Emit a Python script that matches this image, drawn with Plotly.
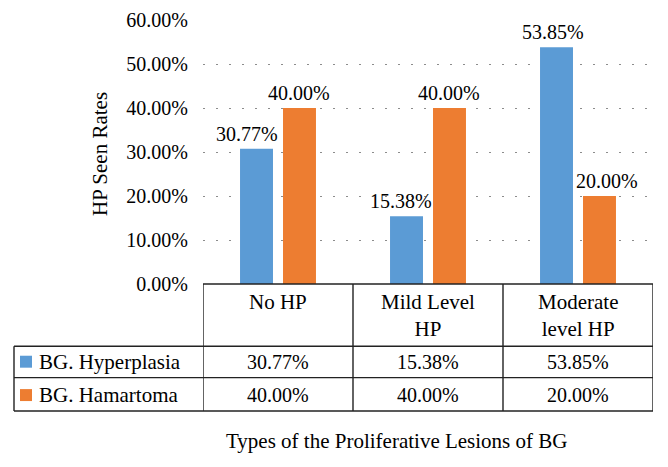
import plotly.graph_objects as go

categories = ["No HP", "Mild Level HP", "Moderate level HP"]
header_labels = ["No HP", "Mild Level<br>HP", "Moderate<br>level HP"]
series_names = ["BG. Hyperplasia", "BG. Hamartoma"]
hyperplasia = [30.77, 15.38, 53.85]
hamartoma = [40.00, 40.00, 20.00]
y_ticks = [0, 10, 20, 30, 40, 50, 60]
y_tick_labels = ["0.00%", "10.00%", "20.00%", "30.00%", "40.00%", "50.00%", "60.00%"]
colors = ["#5B9BD5", "#ED7D31"]
# small horizontal nudges of the value labels (pixels), as in the original
label_nudge = [[-10, -6, -4], [-1, -1, 7]]
series_offset = [-21.5, 21.5]

# the page body adds an 8px margin, so the figure is laid out in page coords minus 8
OFF = 8
W, H = 668 - OFF, 467 - OFF
L, R, T, B = 203, 653, 19.5, 284.5
FONT = "Liberation Serif"
FS_NUM = 20
FS_TXT = 21


def px(X):
    return (X - L) / (R - L)


def py(Y):
    return (B - Y) / (B - T)


fig = go.Figure()
for name, vals, col in zip(series_names, [hyperplasia, hamartoma], colors):
    fig.add_trace(go.Bar(
        x=categories, y=vals, name=name, marker=dict(color=col, line=dict(width=0)),
    ))

fig.update_layout(
    width=W, height=H, margin=dict(l=L - OFF, r=668 - R, t=T - OFF, b=467 - B, pad=0),
    paper_bgcolor="white", plot_bgcolor="white",
    barmode="group", bargap=0.427, bargroupgap=0.233, showlegend=False,
    font=dict(family=FONT, size=FS_NUM, color="black"),
)
fig.update_xaxes(range=[-0.5, 2.5], showticklabels=False, showgrid=False, zeroline=False,
                 showline=False, automargin=False)
fig.update_yaxes(range=[0, 60.02], tickvals=y_ticks, ticktext=y_tick_labels, showgrid=True,
                 gridcolor="#8c8c8c", gridwidth=1.3, griddash="2px,11px", zeroline=False,
                 showline=False, automargin=False, ticks="outside", ticklen=10,
                 tickcolor="rgba(0,0,0,0)", tickfont=dict(family=FONT, size=FS_NUM))

shapes = []
annotations = []
line = dict(color="#222222", width=1.4)
shapes.append(dict(type="line", xref="paper", yref="paper", x0=0, x1=1, y0=py(284.5), y1=py(284.5), line=line))
for Y in [347, 378.5, 412]:
    shapes.append(dict(type="line", xref="paper", yref="paper", x0=px(14), x1=1, y0=py(Y), y1=py(Y), line=line))
for xv in [-0.5, 0.5, 1.5, 2.5]:
    shapes.append(dict(type="line", xref="x", yref="paper", x0=xv, x1=xv, y0=py(284.5), y1=py(412), line=line))
shapes.append(dict(type="line", xref="paper", yref="paper", x0=px(14), x1=px(14), y0=py(347), y1=py(412), line=line))

# value labels above bars
for i, vals in enumerate([hyperplasia, hamartoma]):
    for j, v in enumerate(vals):
        annotations.append(dict(xref="x", yref="y", x=categories[j], y=v, text=f"{v:.2f}%", showarrow=False,
                                xanchor="center", yanchor="bottom", xshift=series_offset[i] + label_nudge[i][j],
                                yshift=2, font=dict(family=FONT, size=FS_NUM)))

row_centers = [362.5, 396]
for i, (name, vals, col) in enumerate(zip(series_names, [hyperplasia, hamartoma], colors)):
    yc = row_centers[i]
    shapes.append(dict(type="rect", xref="paper", yref="paper", x0=px(20), x1=px(32), y0=py(yc - 6), y1=py(yc + 6),
                       fillcolor=col, line=dict(width=0)))
    annotations.append(dict(xref="paper", yref="paper", x=px(37), y=py(yc), text=name, showarrow=False,
                            xanchor="left", yanchor="middle", font=dict(family=FONT, size=FS_TXT)))
    for j, v in enumerate(vals):
        annotations.append(dict(xref="x", yref="paper", x=categories[j], y=py(yc), text=f"{v:.2f}%",
                                showarrow=False, xanchor="center", yanchor="middle", font=dict(family=FONT, size=FS_NUM)))
for j, lab in enumerate(header_labels):
    annotations.append(dict(xref="x", yref="paper", x=categories[j], y=py(289), text=lab, showarrow=False,
                            xanchor="center", yanchor="top", font=dict(family=FONT, size=FS_TXT)))
annotations.append(dict(xref="paper", yref="paper", x=px(100), y=py(154), text="HP Seen Rates", textangle=-90,
                        showarrow=False, xanchor="center", yanchor="middle", font=dict(family=FONT, size=FS_TXT)))
annotations.append(dict(xref="paper", yref="paper", x=px(396), y=py(442),
                        text="Types of the Proliferative Lesions of BG", showarrow=False,
                        xanchor="center", yanchor="middle", font=dict(family=FONT, size=FS_TXT)))

fig.update_layout(shapes=shapes, annotations=annotations)
fig.write_html("out.html")
